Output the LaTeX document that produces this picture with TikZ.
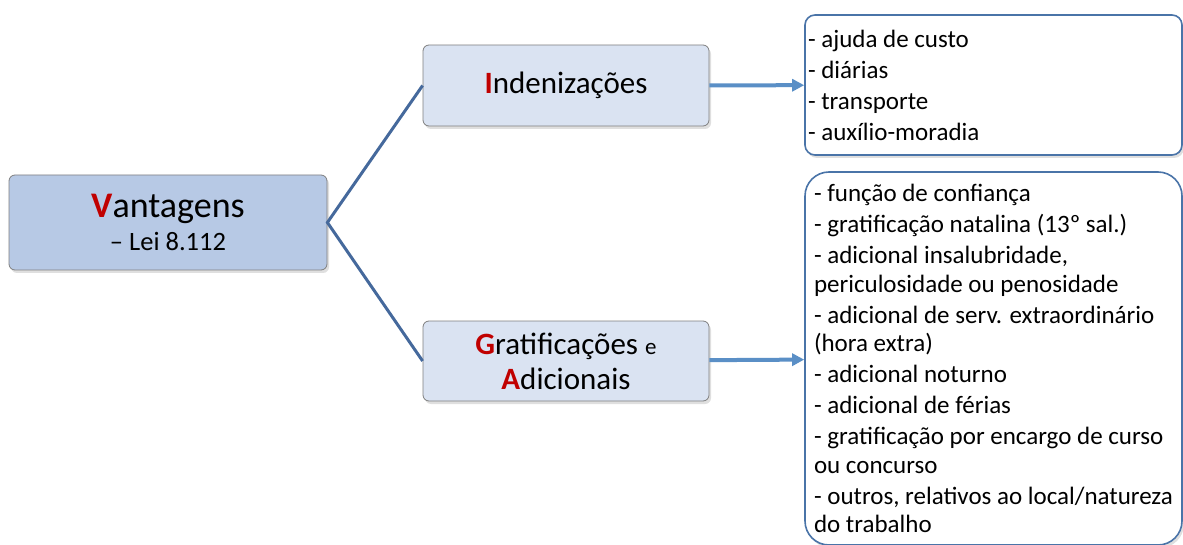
\documentclass[tikz,border=0pt]{standalone}
\usepackage{fontspec}
\setmainfont{Carlito}
\usepackage{tikz}
\usepackage{xcolor}
\usetikzlibrary{arrows.meta,positioning,shadows}
\definecolor{VRed}{HTML}{C00000}
\definecolor{MainFill}{HTML}{B7C9E5}
\definecolor{SubFill}{HTML}{DAE3F2}
\definecolor{BoxGray}{HTML}{7F7F7F}
\definecolor{LinkBlue}{HTML}{45699C}
\definecolor{ArrowBlue}{HTML}{5A8FC6}
\definecolor{ListBlue}{HTML}{4A74A8}

\newcommand{\initial}[1]{{\color{VRed}\bfseries #1}}

\tikzset{
    mainbox/.style={draw=BoxGray, fill=MainFill, rounded corners=6pt, line width=0.8pt,
        drop shadow={shadow xshift=2pt, shadow yshift=-3pt, opacity=0.25},
        align=center, inner sep=0pt},
    subbox/.style={mainbox, fill=SubFill},
    listbox/.style={draw=ListBlue, fill=white, line width=1.6pt,
        drop shadow={shadow xshift=2pt, shadow yshift=-3pt, opacity=0.25},
        font=\fontsize{25}{31}\selectfont},
    link/.style={LinkBlue, line width=3pt},
    feed/.style={ArrowBlue, line width=4pt, -{Triangle[length=12pt,width=12pt]}}
}

\begin{document}
\begin{tikzpicture}[x=1pt, y=-1pt]
    \useasboundingbox (0,0) rectangle (1183,545);

    % Main box
    \node[mainbox, minimum width=318pt, minimum height=95pt,
          font=\fontsize{36}{33}\selectfont] (vant) at (168,222.5)
        {\initial{V}antagens\\
         {\fontsize{26.5}{33}\selectfont -- Lei 8.112}};

    % Second level
    \node[subbox, minimum width=286pt, minimum height=81pt,
          font=\fontsize{31}{35}\selectfont] (inden) at (566,85.5)
        {\initial{I}ndenizações};
    \node[subbox, minimum width=286pt, minimum height=80pt,
          font=\fontsize{31}{35}\selectfont] (grat) at (566,361)
        {\initial{G}ratificações {\fontsize{23}{35}\selectfont e}\\
         \initial{A}dicionais};

    % Lists
    \node[listbox, rounded corners=10pt, minimum width=377pt, minimum height=140pt,
          text width=371pt, inner xsep=3pt, align=flush left] (indlist) at (993.5,85)
        {- ajuda de custo\\
         - diárias\\
         - transporte\\
         - auxílio-moradia};
    \node[listbox, rounded corners=24pt, minimum width=377pt, minimum height=373pt,
          align=left, inner xsep=8pt, font=\fontsize{25}{28.5}\selectfont] (gratlist) at (993.5,358.5)
        {- função de confiança\\[2.5pt]
         - gratificação natalina (13º sal.)\\[2.5pt]
         - adicional insalubridade,\\
         periculosidade ou penosidade\\[2.5pt]
         - adicional de serv. extraordinário\\
         (hora extra)\\[2.5pt]
         - adicional noturno\\[2.5pt]
         - adicional de férias\\[2.5pt]
         - gratificação por encargo de curso\\
         ou concurso\\[2.5pt]
         - outros, relativos ao local/natureza\\
         do trabalho};

    % Connectors
    \draw[link] (inden.west) -- (vant.east) -- (grat.west);
    \draw[feed] (inden) -- (indlist);
    \draw[feed] (grat) -- (gratlist);
\end{tikzpicture}
\end{document}
